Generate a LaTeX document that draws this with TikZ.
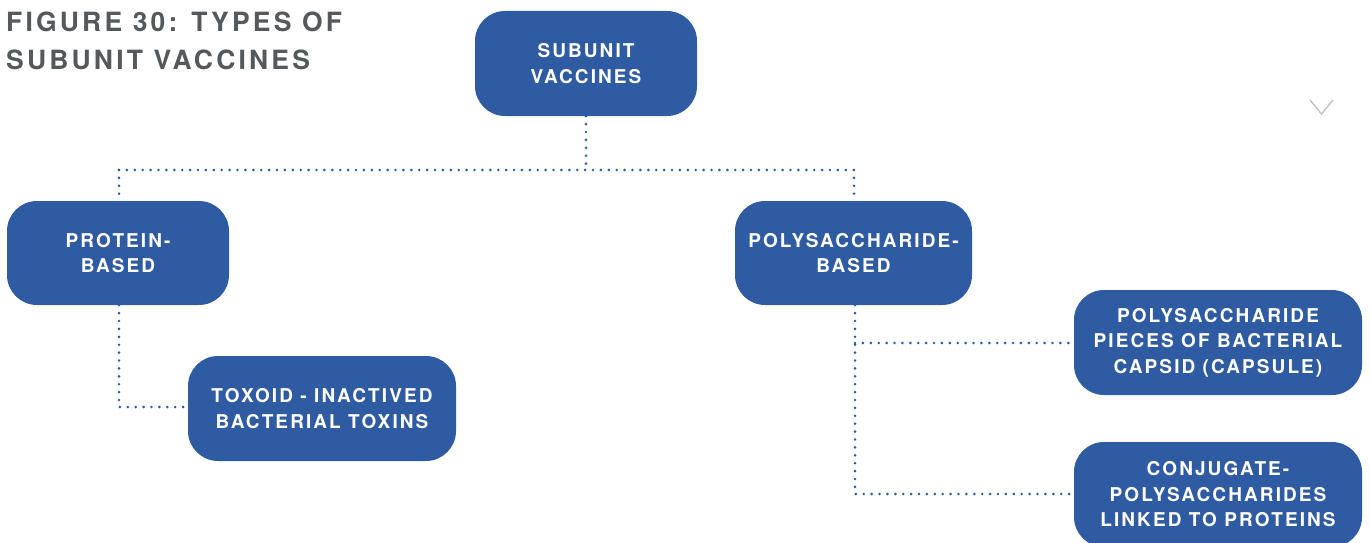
\documentclass[tikz,border=0pt]{standalone}
\usepackage{fontspec}
\setmainfont{TeX Gyre Heros}
\newfontfamily\boxfont[LetterSpace=11]{TeX Gyre Heros}
\newfontfamily\titlefont[LetterSpace=12]{TeX Gyre Heros}
\definecolor{boxblue}{HTML}{2E5BA1}
\definecolor{titlegray}{HTML}{55595C}
\definecolor{chevgray}{HTML}{BDBFC1}
\tikzset{
  vbox/.style={draw=none, fill=boxblue, rounded corners=30pt, text=white,
    align=center, inner sep=0pt, font=\boxfont\bfseries\fontsize{19}{25.5}\selectfont},
  dotline/.style={draw=boxblue, line width=2.9pt, line cap=round, dash pattern=on 0pt off 7.9pt}
}
\begin{document}
\begin{tikzpicture}[x=1pt,y=-1pt]
\useasboundingbox (0,0) rectangle (1370,543);
\node[anchor=north west, text=titlegray, align=left, inner sep=0pt,
  font=\titlefont\bfseries\fontsize{26.5}{38}\selectfont] (title) at (6,12) {FIGURE 30: TYPES OF\\SUBUNIT VACCINES};
\node[vbox, minimum width=222pt, minimum height=105pt] (sub) at (586,63.5) {SUBUNIT\\VACCINES};
\node[vbox, minimum width=222pt, minimum height=104pt] (prot) at (118,253) {PROTEIN-\\BASED};
\node[vbox, minimum width=237pt, minimum height=104pt] (poly) at (853.5,253) {POLYSACCHARIDE-\\BASED};
\node[vbox, minimum width=268pt, minimum height=105pt] (tox) at (322,408.5) {TOXOID - INACTIVED\\BACTERIAL TOXINS};
\node[vbox, minimum width=288pt, minimum height=105pt] (pieces) at (1218,342.5) {POLYSACCHARIDE\\PIECES OF BACTERIAL\\CAPSID (CAPSULE)};
\node[vbox, minimum width=288pt, minimum height=105pt] (conj) at (1218,494.5) {CONJUGATE-\\POLYSACCHARIDES\\LINKED TO PROTEINS};
\coordinate (j) at (586,170);
\draw[dotline] (sub.south) -- (j);
\draw[dotline] (119,170) coordinate (jl) -- (854,170) coordinate (jr);
\draw[dotline] (jl) -- (prot.north -| jl);
\draw[dotline] (jr) -- (poly.north -| jr);
\draw[dotline] (prot.south -| 119,0) -- (119,407) -- (tox.west |- 0,407);
\draw[dotline] (poly.south -| 855,0) -- (855,494) -- (conj.west |- 0,494);
\draw[dotline] (855,343) -- (pieces.west |- 0,343);
\draw[chevgray, line width=1.3pt] (1310,100) -- (1321.5,114) -- (1333,100);
\end{tikzpicture}
\end{document}
